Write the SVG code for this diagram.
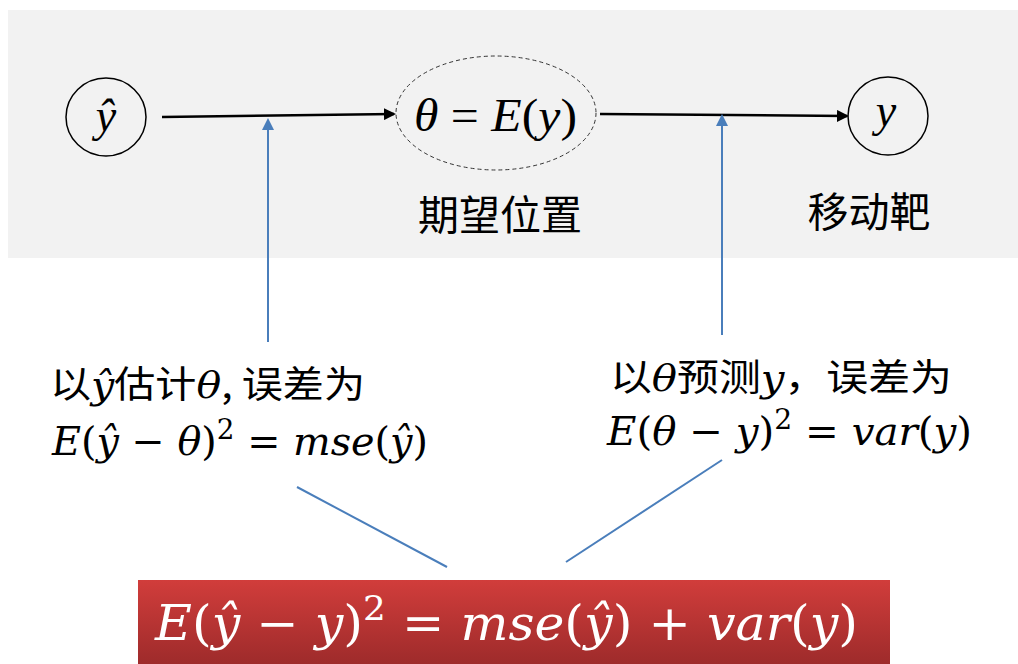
<svg xmlns="http://www.w3.org/2000/svg" width="1018" height="664" viewBox="0 0 1018 664">
<defs>
<style>
.math{font-family:"DejaVu Serif","Liberation Serif",serif;font-style:italic;}
.tm{font-family:"Liberation Serif","DejaVu Serif",serif;font-style:italic;}
.up{font-style:normal;}
.cjk{font-family:"Noto Sans CJK SC",sans-serif;font-style:normal;}
.node{fill:none;stroke:#000;stroke-width:1.5;}
.blk{stroke:#000;stroke-width:2.5;fill:none;}
.blue{stroke:#4a7ebb;stroke-width:2;fill:none;}
</style>
<marker id="ab" markerWidth="12" markerHeight="12" refX="10" refY="6" orient="auto" markerUnits="userSpaceOnUse" viewBox="0 0 12 12"><path d="M0,0 L12,6 L0,12 z" fill="#000"/></marker>
<marker id="au" markerWidth="12" markerHeight="14" refX="10" refY="6" orient="auto" markerUnits="userSpaceOnUse" viewBox="0 0 12 12"><path d="M0,0 L12,6 L0,12 z" fill="#4a7ebb"/></marker>
<linearGradient id="red" x1="0" y1="0" x2="0" y2="1"><stop offset="0" stop-color="#d13d3b"/><stop offset="1" stop-color="#9e2b2b"/></linearGradient>
</defs>
<rect x="8" y="10" width="1010" height="248" fill="#f2f2f2"/>
<g id="connectors">
<line class="blk" x1="162" y1="117" x2="394" y2="114" marker-end="url(#ab)"/>
<line class="blk" x1="600" y1="114" x2="847" y2="116" marker-end="url(#ab)"/>
<line class="blue" x1="268" y1="342" x2="268" y2="120" marker-end="url(#au)"/>
<line class="blue" x1="722" y1="335" x2="722" y2="116" marker-end="url(#au)"/>
<line class="blue" stroke-width="1.5" x1="297" y1="487" x2="447" y2="567"/>
<line class="blue" stroke-width="1.5" x1="722" y1="460" x2="566" y2="562"/>
</g>
<g id="node-yhat">
<ellipse class="node" cx="106" cy="117" rx="40" ry="39"/>
<text class="tm" x="106" y="131" font-size="46" text-anchor="middle">ŷ</text>
</g>
<g id="node-theta">
<ellipse cx="496" cy="113" rx="100" ry="57" fill="none" stroke="#333" stroke-width="1" stroke-dasharray="4,3"/>
<text class="tm" x="414" y="131" font-size="46" textLength="163" lengthAdjust="spacingAndGlyphs">θ <tspan class="up">=</tspan> E<tspan class="up">(</tspan>y<tspan class="up">)</tspan></text>
<text class="cjk" x="500" y="230" font-size="41" text-anchor="middle">期望位置</text>
</g>
<g id="node-y">
<ellipse class="node" cx="888" cy="116" rx="40" ry="39"/>
<text class="tm" x="886" y="126" font-size="46" text-anchor="middle">y</text>
<text class="cjk" x="869" y="227" font-size="41" text-anchor="middle">移动靶</text>
</g>
<g id="label-left">
<text x="50" y="398" font-size="37" textLength="315" lengthAdjust="spacingAndGlyphs"><tspan class="cjk">以</tspan><tspan class="math">ŷ</tspan><tspan class="cjk">估计</tspan><tspan class="math">θ</tspan><tspan class="cjk">, 误差为</tspan></text>
<text class="math" x="52" y="455" font-size="40" textLength="376" lengthAdjust="spacingAndGlyphs">E<tspan class="up">(</tspan>ŷ <tspan class="up">−</tspan> θ<tspan class="up">)</tspan><tspan class="up" font-size="28" dy="-16">2</tspan><tspan dy="16"> </tspan><tspan class="up">=</tspan> mse<tspan class="up">(</tspan>ŷ<tspan class="up">)</tspan></text>
</g>
<g id="label-right">
<text x="610" y="391" font-size="37" textLength="342" lengthAdjust="spacingAndGlyphs"><tspan class="cjk">以</tspan><tspan class="math">θ</tspan><tspan class="cjk">预测</tspan><tspan class="math">y</tspan><tspan class="cjk">，误差为</tspan></text>
<text class="math" x="607" y="445" font-size="40" textLength="365" lengthAdjust="spacingAndGlyphs">E<tspan class="up">(</tspan>θ <tspan class="up">−</tspan> y<tspan class="up">)</tspan><tspan class="up" font-size="28" dy="-16">2</tspan><tspan dy="16"> </tspan><tspan class="up">=</tspan> var<tspan class="up">(</tspan>y<tspan class="up">)</tspan></text>
</g>
<g id="node-result">
<rect x="138" y="580" width="752" height="84" fill="url(#red)"/>
<text class="math" x="155" y="640" font-size="48" fill="#fff" textLength="703" lengthAdjust="spacingAndGlyphs">E<tspan class="up">(</tspan>ŷ <tspan class="up">−</tspan> y<tspan class="up">)</tspan><tspan class="up" font-size="34" dy="-20">2</tspan><tspan dy="20"> </tspan><tspan class="up">=</tspan> mse<tspan class="up">(</tspan>ŷ<tspan class="up">)</tspan> <tspan class="up">+</tspan> var<tspan class="up">(</tspan>y<tspan class="up">)</tspan></text>
</g>
</svg>
